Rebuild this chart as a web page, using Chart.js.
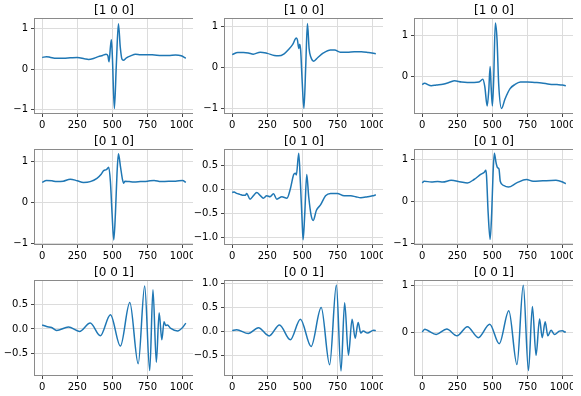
<!DOCTYPE html>
<html>
<head>
<meta charset="utf-8">
<script src="https://cdn.jsdelivr.net/npm/chart.js@4.4.1/dist/chart.umd.min.js"></script>
<style>
  body { margin: 0; background: #fff; width: 581px; height: 396px; position: relative; overflow: hidden; }
  canvas { position: absolute; }
</style>
</head>
<body>
<script>
// panel titles (class label of each signal)
const titles = ['[1 0 0]', '[1 0 0]', '[1 0 0]', '[0 1 0]', '[0 1 0]', '[0 1 0]', '[0 0 1]', '[0 0 1]', '[0 0 1]'];
const xTicks = [0, 250, 500, 750, 1000];

// row 1
const p1x = [0, 30, 60, 100, 150, 200, 250, 300, 330, 370, 400, 430, 455, 468, 476, 486, 493, 500, 514, 528, 543, 556, 568, 578, 600, 630, 665, 700, 750, 800, 850, 900, 950, 990, 1023];
const p1y = [0.29, 0.31, 0.29, 0.27, 0.27, 0.28, 0.29, 0.26, 0.24, 0.27, 0.31, 0.34, 0.37, 0.33, 0.18, 0.55, 0.73, 0.30, -0.98, 0.10, 1.13, 0.55, 0.25, 0.22, 0.28, 0.33, 0.37, 0.36, 0.36, 0.35, 0.34, 0.34, 0.35, 0.33, 0.27];
const p2x = [0, 40, 80, 115, 150, 200, 250, 300, 330, 370, 400, 430, 457, 465, 474, 481, 488, 498, 511, 524, 536, 548, 560, 580, 610, 650, 700, 730, 770, 820, 870, 920, 970, 1023];
const p2y = [0.31, 0.36, 0.36, 0.35, 0.32, 0.37, 0.34, 0.29, 0.28, 0.33, 0.43, 0.55, 0.71, 0.66, 0.46, 0.56, 0.40, -0.30, -0.99, 0.05, 1.06, 0.45, 0.25, 0.15, 0.24, 0.35, 0.42, 0.42, 0.37, 0.37, 0.38, 0.38, 0.36, 0.33];
const p3x = [0, 15, 65, 100, 147, 200, 229, 280, 322, 370, 404, 432, 446, 463, 474, 484, 491, 500, 509, 521, 533, 545, 565, 590, 626, 660, 700, 750, 800, 850, 907, 960, 1000, 1023];
const p3y = [-0.20, -0.17, -0.23, -0.21, -0.19, -0.14, -0.11, -0.14, -0.15, -0.15, -0.14, -0.07, -0.25, -0.72, -0.35, 0.24, -0.25, -0.72, -0.10, 1.29, 0.90, -0.20, -0.78, -0.55, -0.30, -0.20, -0.14, -0.14, -0.15, -0.16, -0.19, -0.20, -0.21, -0.23];

// row 2
const p4x = [0, 30, 70, 103, 150, 200, 250, 294, 342, 390, 420, 438, 457, 474, 486, 498, 510, 522, 533, 543, 557, 572, 580, 590, 620, 653, 700, 750, 797, 845, 900, 950, 1000, 1023];
const p4y = [0.48, 0.53, 0.52, 0.50, 0.51, 0.56, 0.52, 0.48, 0.50, 0.58, 0.68, 0.77, 0.79, 0.85, 0.50, -0.30, -0.92, -0.25, 0.70, 1.18, 0.88, 0.55, 0.46, 0.51, 0.50, 0.49, 0.50, 0.51, 0.53, 0.50, 0.51, 0.51, 0.53, 0.48];
const p5x = [0, 14, 31, 55, 80, 95, 103, 127, 151, 175, 199, 222, 246, 270, 294, 318, 354, 390, 414, 438, 450, 457, 474, 486, 498, 505, 517, 531, 545, 562, 577, 600, 629, 665, 701, 749, 797, 845, 880, 916, 964, 1000, 1023];
const p5y = [-0.06, -0.05, -0.08, -0.10, -0.12, -0.12, -0.08, -0.20, -0.13, -0.06, -0.12, -0.18, -0.13, -0.15, -0.09, -0.20, -0.15, -0.18, 0.01, 0.31, 0.34, 0.30, 0.75, 0.13, -0.64, -1.04, -0.50, 0.31, -0.15, -0.53, -0.64, -0.43, -0.32, -0.13, -0.08, -0.08, -0.13, -0.13, -0.15, -0.17, -0.15, -0.13, -0.11];
const p6x = [0, 14, 65, 110, 147, 206, 276, 322, 369, 416, 444, 453, 458, 470, 484, 495, 505, 514, 526, 537, 547, 556, 579, 614, 673, 743, 790, 860, 953, 1000, 1023];
const p6y = [0.44, 0.48, 0.46, 0.47, 0.46, 0.50, 0.46, 0.44, 0.52, 0.64, 0.70, 0.74, 0.62, -0.28, -0.90, -0.28, 0.68, 1.14, 0.92, 0.80, 0.77, 0.48, 0.38, 0.34, 0.44, 0.52, 0.48, 0.49, 0.50, 0.46, 0.42];

// row 3
const p7x = [0, 31, 67, 103, 187, 266, 342, 414, 486, 557, 624, 684, 730, 766, 789, 813, 833, 852, 868, 880, 892, 916, 964, 1000, 1023];
const p7y = [0.08, 0.05, 0.03, -0.03, 0.04, -0.05, 0.12, -0.14, 0.29, -0.35, 0.54, -0.71, 0.88, -0.85, 0.80, -0.68, 0.33, -0.22, 0.15, 0.07, 0.08, 0.01, -0.04, 0.03, 0.12];
const p8x = [0, 31, 115, 187, 263, 337, 414, 486, 562, 634, 694, 742, 775, 801, 828, 854, 876, 897, 916, 933, 964, 1007, 1023];
const p8y = [0.02, 0.04, -0.04, 0.08, -0.09, 0.14, -0.17, 0.26, -0.31, 0.50, -0.69, 0.97, -0.82, 0.60, -0.49, 0.26, -0.14, 0.19, -0.03, 0.01, -0.03, 0.03, 0.02];
const p9x = [0, 19, 37, 100, 175, 248, 322, 400, 481, 549, 617, 675, 720, 757, 785, 811, 836, 855, 876, 895, 918, 942, 977, 1000, 1016, 1023];
const p9y = [0.0, 0.06, 0.04, -0.05, 0.065, -0.08, 0.115, -0.12, 0.17, -0.25, 0.46, -0.70, 1.01, -0.83, 0.55, -0.50, 0.28, -0.12, 0.22, -0.08, 0.04, -0.05, 0.02, 0.03, 0.0, 0.01];

// y tick labels per panel
const yTicks = [
  [-1, 0, 1], [-1, 0, 1], [0, 1],
  [-1, 0, 1], [-1, -0.5, 0, 0.5], [-1, 0, 1],
  [-0.5, 0, 0.5], [-0.5, 0, 0.5, 1], [0, 1]
];
const yDecimals = [0, 0, 0, 0, 1, 0, 1, 1, 0];
const yLimits = [
  [-1.09, 1.245], [-1.10, 1.17], [-0.89, 1.39],
  [-1.02, 1.27], [-1.13, 0.82], [-1.01, 1.22],
  [-0.94, 0.98], [-0.905, 1.055], [-0.925, 1.10]
];

const xsAll = [p1x, p2x, p3x, p4x, p5x, p6x, p7x, p8x, p9x];
const ysAll = [p1y, p2y, p3y, p4y, p5y, p6y, p7y, p8y, p9y];

const colLefts = [0, 190, 380];
const rowTops = [0, 131, 262];

// matplotlib-like box around each axes
const framePlugin = {
  id: 'frame',
  afterDraw(chart) {
    const a = chart.chartArea;
    const ctx = chart.ctx;
    ctx.save();
    ctx.strokeStyle = '#8a8a8a';
    ctx.lineWidth = 1;
    ctx.strokeRect(Math.round(a.left) - 0.5, Math.round(a.top) - 0.5,
                   Math.round(a.right - a.left) + 1, Math.round(a.bottom - a.top) + 1);
    ctx.restore();
  }
};

function fmt(v, d) {
  return (v < 0 ? '\u2212' : '') + Math.abs(v).toFixed(d);
}

for (let i = 0; i < 9; i++) {
  const canvas = document.createElement('canvas');
  canvas.width = 193;
  canvas.height = 134;
  canvas.style.width = '193px';
  canvas.style.height = '134px';
  canvas.style.left = colLefts[i % 3] + 'px';
  canvas.style.top = rowTops[Math.floor(i / 3)] + 'px';
  document.body.appendChild(canvas);

  const points = xsAll[i].map((x, k) => ({ x: x, y: ysAll[i][k] }));

  new Chart(canvas, {
    type: 'line',
    data: {
      datasets: [{
        data: points,
        borderColor: '#1f77b4',
        borderWidth: 1.5,
        pointRadius: 0,
        cubicInterpolationMode: 'monotone',
        fill: false
      }]
    },
    plugins: [framePlugin],
    options: {
      responsive: false,
      animation: false,
      devicePixelRatio: 1,
      layout: { padding: 0 },
      plugins: {
        legend: { display: false },
        tooltip: { enabled: false },
        title: {
          display: true,
          text: titles[i],
          fullSize: false,
          color: '#000',
          font: { family: 'DejaVu Sans', size: 12, weight: 'normal' },
          padding: { top: 4, bottom: 0.6 }
        }
      },
      scales: {
        x: {
          type: 'linear',
          min: -51.15,
          max: 1074.15,
          afterBuildTicks: s => { s.ticks = xTicks.map(v => ({ value: v })); },
          afterFit: s => { s.height = 21; s.paddingLeft = 0; s.paddingRight = 0; },
          ticks: {
            color: '#000',
            font: { family: 'DejaVu Sans', size: 10 },
            padding: 2,
            maxRotation: 0,
            callback: v => String(v)
          },
          grid: { color: '#dcdcdc', lineWidth: 1, tickColor: '#444', tickLength: 4 },
          border: { display: false }
        },
        y: {
          min: yLimits[i][0],
          max: yLimits[i][1],
          afterBuildTicks: s => { s.ticks = yTicks[i].map(v => ({ value: v })); },
          afterFit: s => { s.width = 35; s.paddingTop = 0; s.paddingBottom = 0; },
          ticks: {
            color: '#000',
            font: { family: 'DejaVu Sans', size: 10 },
            padding: 3,
            callback: v => fmt(v, yDecimals[i])
          },
          grid: { color: '#dcdcdc', lineWidth: 1, tickColor: '#444', tickLength: 4 },
          border: { display: false }
        }
      }
    }
  });
}
</script>
</body>
</html>
